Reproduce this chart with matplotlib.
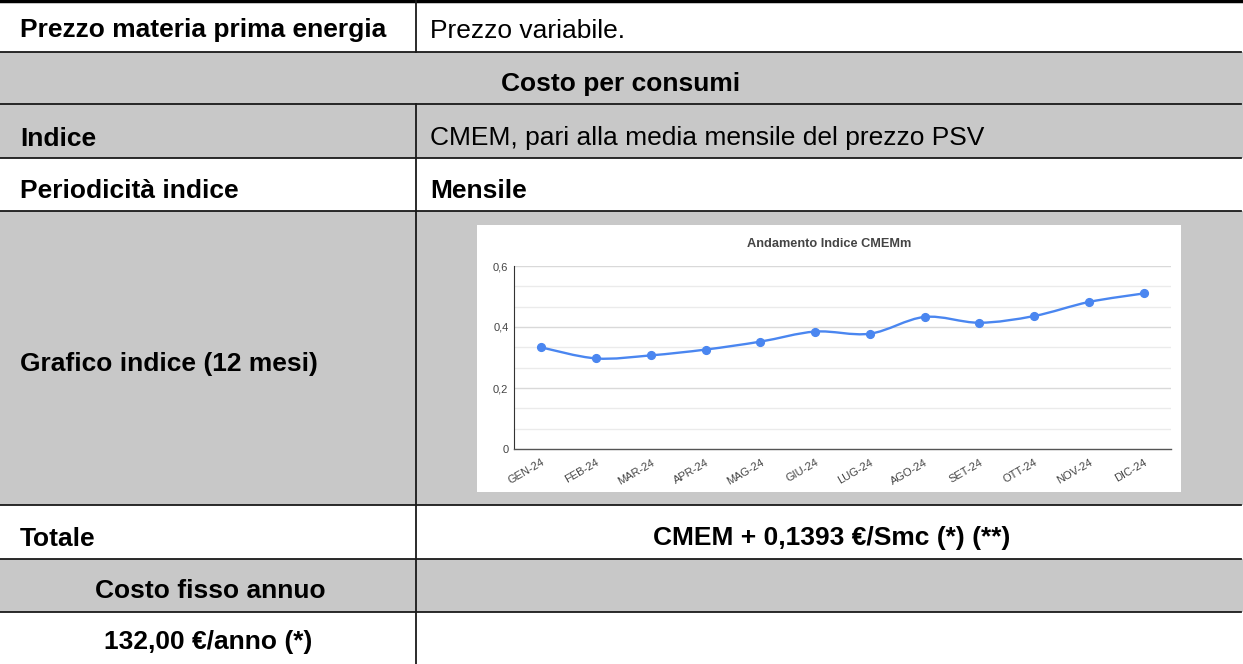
import matplotlib
matplotlib.use("Agg")
import matplotlib.pyplot as plt
from matplotlib.path import Path
from matplotlib.patches import PathPatch, Rectangle
import numpy as np

plt.rcParams['font.family'] = ['Liberation Sans', 'DejaVu Sans']

# ---- data ----
months = ["GEN-24", "FEB-24", "MAR-24", "APR-24", "MAG-24", "GIU-24",
          "LUG-24", "AGO-24", "SET-24", "OTT-24", "NOV-24", "DIC-24"]
cmem = [0.333, 0.297, 0.307, 0.326, 0.352, 0.385,
        0.378, 0.433, 0.414, 0.436, 0.482, 0.510]
y_ticks = [0, 0.2, 0.4, 0.6]
y_tick_labels = ["0", "0,2", "0,4", "0,6"]
chart_title = "Andamento Indice CMEMm"

W, H = 1243, 664
fig = plt.figure(figsize=(W / 100, H / 100), dpi=100)
bg = fig.add_axes([0, 0, 1, 1])
bg.set_xlim(0, W)
bg.set_ylim(H, 0)
bg.axis('off')

GRAY = '#c8c8c8'
LINE = '#1a1a1a'
XDIV = 416

# row bands (top, bottom, fill)
rows = [(0, 51.5, 'white'), (51.5, 104, GRAY), (104, 158, GRAY), (158, 211, 'white'),
        (211, 504.5, GRAY), (504.5, 558.5, 'white'), (558.5, 612, GRAY), (612, 664, 'white')]
for t, b, c in rows:
    bg.add_patch(Rectangle((0, t), W, b - t, facecolor=c, edgecolor='none'))

# horizontal lines
bg.plot([0, W], [1, 1], color='black', lw=2.5)
for yb in [51.5, 104, 158, 211, 504.5, 558.5, 612]:
    bg.plot([0, W - 2], [yb, yb], color=LINE, lw=1.3)
# vertical divider (not in "Costo per consumi" row)
bg.plot([XDIV, XDIV], [0, 51.5], color=LINE, lw=1.3)
bg.plot([XDIV, XDIV], [104, H], color=LINE, lw=1.3)

FS = 19.0
def T(x, y, s, bold=True, ha='left'):
    bg.text(x, y, s, fontsize=FS, fontweight='bold' if bold else 'normal',
            ha=ha, va='center_baseline', color='black')

T(20, 28, "Prezzo materia prima energia")
T(430, 28, "Prezzo variabile.", bold=False)
T(621, 81, "Costo per consumi", ha='center')
T(20, 136, "Indice")
T(430, 136, "CMEM, pari alla media mensile del prezzo PSV", bold=False)
T(20, 189, "Periodicità indice")
T(430, 189, "Mensile")
T(20, 362, "Grafico indice (12 mesi)")
T(20, 536, "Totale")
T(832, 536, "CMEM + 0,1393 €/Smc (*) (**)", ha='center')
T(210, 588, "Costo fisso annuo", ha='center')
T(208, 640, "132,00 €/anno (*)", ha='center')

# chart image background
bg.add_patch(Rectangle((477, 225), 1181 - 477, 492 - 225, facecolor='white', edgecolor='none'))
bg.text(829, 244, chart_title, fontsize=9.2, fontweight='bold', color='#444444',
        ha='center', va='center')

# chart axes
L, R, TOP, BOT = 514, 1171, 266, 449
ax = fig.add_axes([L / W, 1 - BOT / H, (R - L) / W, (BOT - TOP) / H])
ax.set_facecolor('white')
x = np.arange(len(months))
ax.set_xlim(-0.5, len(months) - 0.5)
ax.set_ylim(0, 0.6)

for k in range(1, 10):
    v = 0.6 * k / 9
    major = (k % 3 == 0)
    ax.axhline(v, color='#d9d9d9' if major else '#ebebeb', lw=1.0, zorder=0)

# smooth line (Catmull-Rom -> cubic bezier) through the data points
px = list(x.astype(float))
py = list(cmem)
verts = [(px[0], py[0])]
codes = [Path.MOVETO]
n = len(px)
for i in range(n - 1):
    p0 = (px[max(i - 1, 0)], py[max(i - 1, 0)])
    p1 = (px[i], py[i])
    p2 = (px[i + 1], py[i + 1])
    p3 = (px[min(i + 2, n - 1)], py[min(i + 2, n - 1)])
    c1 = (p1[0] + (p2[0] - p0[0]) / 6, p1[1] + (p2[1] - p0[1]) / 6)
    c2 = (p2[0] - (p3[0] - p1[0]) / 6, p2[1] - (p3[1] - p1[1]) / 6)
    verts += [c1, c2, p2]
    codes += [Path.CURVE4] * 3
ax.add_patch(PathPatch(Path(verts, codes), facecolor='none', edgecolor='#4a86f0', lw=1.7, zorder=3))
ax.plot(x, cmem, linestyle='none', marker='o', markersize=5.6, color='#4a86f0', zorder=4)

ax.set_yticks(y_ticks)
ax.set_yticklabels(y_tick_labels)
ax.set_xticks(x)
ax.set_xticklabels(months, rotation=30, ha='right', rotation_mode='anchor')
ax.tick_params(axis='both', length=0, labelsize=8.0, labelcolor='#444444')
ax.tick_params(axis='y', pad=4)
ax.tick_params(axis='x', pad=6)
for s in ['top', 'right']:
    ax.spines[s].set_visible(False)
ax.spines['left'].set_color('#333333')
ax.spines['bottom'].set_color('#555555')
ax.spines['left'].set_linewidth(0.8)
ax.spines['bottom'].set_linewidth(1.0)

fig.savefig('out.png', dpi=100)
